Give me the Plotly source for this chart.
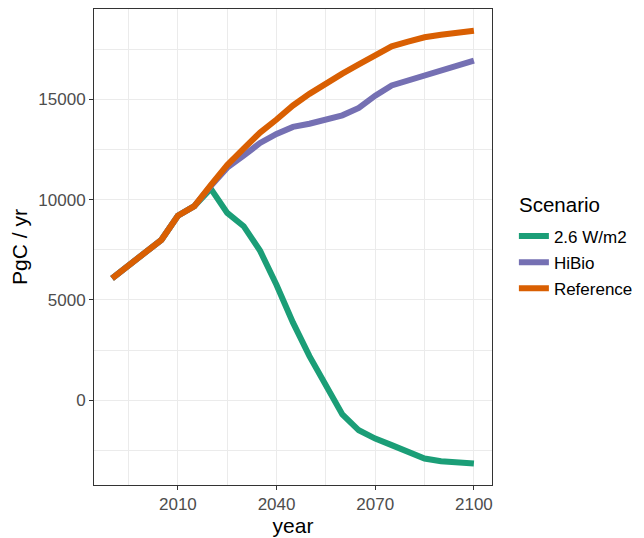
import plotly.graph_objects as go

years = [1990, 2005, 2010, 2015, 2020, 2025, 2030, 2035, 2040, 2045, 2050, 2055,
         2060, 2065, 2070, 2075, 2080, 2085, 2090, 2095, 2100]

ref_vals = [6080, 8000, 9200, 9680, 10730, 11730, 12550, 13350, 14000, 14700, 15280, 15800,
            16290, 16750, 17200, 17650, 17880, 18100, 18230, 18330, 18430]
hibio_vals = [6080, 8000, 9200, 9680, 10680, 11600, 12200, 12830, 13280, 13630, 13790, 14000,
              14210, 14580, 15190, 15700, 15950, 16240, 16480, 16700, 16935]
low_vals = [6080, 8000, 9200, 9680, 10550, 9340, 8680, 7450, 5750, 3870, 2200, 700,
            -710, -1500, -1915, -2240, -2570, -2905, -3040, -3110, -3160]

series = [
    ("2.6 W/m2", low_vals, "#1B9E77"),
    ("HiBio", hibio_vals, "#7570B3"),
    ("Reference", ref_vals, "#D95F02"),
]
legend_title = "Scenario"

fig = go.Figure()
for name, vals, col in series:
    fig.add_trace(go.Scatter(
        x=years, y=vals, mode="lines", name=name,
        line=dict(color=col, width=6),
        legendgroup=name,
    ))

font_family = "Liberation Sans, Arial, sans-serif"

fig.add_annotation(
    text=legend_title, xref="paper", yref="paper",
    x=1.0628, y=0.589, xanchor="left", yanchor="middle",
    showarrow=False, font=dict(size=20.5, color="black"),
)

fig.update_layout(
    width=644, height=538,
    margin=dict(l=86, r=160, t=1, b=61),
    paper_bgcolor="white", plot_bgcolor="white",
    font=dict(family=font_family, color="black"),
    legend=dict(
        font=dict(size=17, color="black"),
        x=1.055, y=0.4674, xanchor="left", yanchor="middle",
        tracegroupgap=1, itemwidth=30,
        bgcolor="rgba(0,0,0,0)",
    ),
    xaxis=dict(
        range=[1984.5, 2105.5],
        tick0=2010, dtick=30,
        showgrid=True, gridcolor="#EBEBEB", gridwidth=1.1,
        minor=dict(dtick=15, tick0=1995, showgrid=True, gridcolor="#EBEBEB", gridwidth=0.55, ticks=""),
        ticks="outside", ticklen=4, tickcolor="#333333", tickwidth=1,
        tickfont=dict(size=17, color="#4D4D4D"),
        showline=True, linecolor="#333333", linewidth=1, mirror=True,
        zeroline=False,
        title=dict(text="year", font=dict(size=21, color="black"), standoff=0),
    ),
    yaxis=dict(
        range=[-4228, 19511],
        tick0=0, dtick=5000, tickformat="d",
        showgrid=True, gridcolor="#EBEBEB", gridwidth=1.1,
        minor=dict(dtick=2500, showgrid=True, gridcolor="#EBEBEB", gridwidth=0.55, ticks=""),
        ticks="outside", ticklen=4, tickcolor="#333333", tickwidth=1,
        tickfont=dict(size=17, color="#4D4D4D"),
        showline=True, linecolor="#333333", linewidth=1, mirror=True,
        zeroline=False,
        title=dict(text="PgC / yr", font=dict(size=21, color="black"), standoff=6),
    ),
)

fig.write_html("out.html")
